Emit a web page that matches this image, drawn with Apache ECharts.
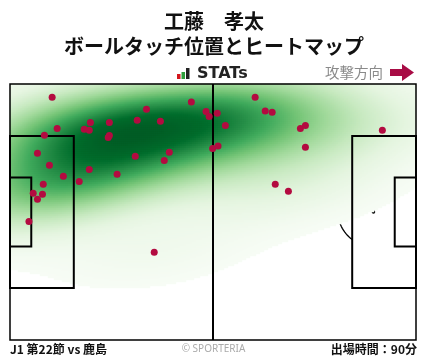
<!DOCTYPE html>
<html><head><meta charset="utf-8">
<script src="https://cdn.jsdelivr.net/npm/echarts@6/dist/echarts.min.js"></script>
<style>html,body{margin:0;padding:0;background:#fff}#c{width:428px;height:359px}</style>
</head><body><div id="c"></div>
<script>
// ---- texts ----
const playerName = '工藤　孝太';
const chartTitle = 'ボールタッチ位置とヒートマップ';
const brandLabel = 'STATs';
const directionLabel = '攻撃方向';
const matchLabel = 'J1 第22節 vs 鹿島';
const creditLabel = '© SPORTERIA';
const minutesLabel = '出場時間：90分';

// ---- ball touches (metres; x from own goal line, y from top touchline) ----
const touchX = [10.9, 12.2, 8.9, 7.1, 20.8, 19.2, 20.5, 25.7, 25.7, 25.4, 32.9, 35.3, 32.4, 46.9, 50.7, 51.5, 38.9, 52.4, 41.2, 39.9, 10.2, 20.5, 27.7, 13.8, 17.9, 8.6, 6.0, 8.4, 7.1, 53.6, 55.7, 63.4, 66.0, 67.8, 53.8, 75.1, 76.4, 76.4, 96.3, 68.6, 72.0, 4.9, 37.3];
const touchY = [3.5, 11.8, 13.6, 18.4, 10.2, 12.0, 12.3, 10.2, 13.7, 14.2, 9.6, 6.7, 19.2, 4.8, 7.3, 8.6, 9.9, 17.1, 18.1, 20.3, 21.6, 22.7, 24.0, 24.5, 25.9, 26.6, 29.0, 29.3, 30.6, 7.8, 11.0, 3.5, 7.2, 7.5, 16.5, 11.8, 11.0, 16.8, 12.3, 26.6, 28.5, 36.5, 44.7];

// ---- pitch dimensions (metres) ----
const PITCH_L = 105, PITCH_W = 68;
const BOX_D = 16.5, BOX_W = 40.32, GOAL_D = 5.5, GOAL_W = 18.32, SPOT_D = 11, CIRCLE_R = 9.15;

// ---- KDE of the touches (Scott bandwidth x BW_ADJ, full covariance), coloured by iso-proportion ----
const NX = 203, NY = 128, THRESH = 0.02, CUT = 3, EXT_N = 200, BW_ADJ = 1.45;
function kdeCells() {
  const n = touchX.length;
  let mx = 0, my = 0;
  for (let k = 0; k < n; k++) { mx += touchX[k]; my += touchY[k]; }
  mx /= n; my /= n;
  let sxx = 0, syy = 0, sxy = 0;
  for (let k = 0; k < n; k++) {
    const dx = touchX[k] - mx, dy = touchY[k] - my;
    sxx += dx * dx; syy += dy * dy; sxy += dx * dy;
  }
  sxx /= (n - 1); syy /= (n - 1); sxy /= (n - 1);
  const f2 = Math.pow(n, -1 / 3) * BW_ADJ * BW_ADJ;
  const a = sxx * f2, b = sxy * f2, c = syy * f2;
  const det = a * c - b * b;
  const ia = c / det, ib = -b / det, ic = a / det;
  const dens = (x, y) => {
    let s = 0;
    for (let k = 0; k < n; k++) {
      const dx = x - touchX[k], dy = y - touchY[k];
      s += Math.exp(-0.5 * (ia * dx * dx + 2 * ib * dx * dy + ic * dy * dy));
    }
    return s;
  };
  const bx = Math.sqrt(a), by = Math.sqrt(c);
  const x0 = Math.min(...touchX) - CUT * bx, x1 = Math.max(...touchX) + CUT * bx;
  const y0 = Math.min(...touchY) - CUT * by, y1 = Math.max(...touchY) + CUT * by;
  const ext = new Float64Array(EXT_N * EXT_N);
  for (let j = 0; j < EXT_N; j++) for (let i = 0; i < EXT_N; i++)
    ext[j * EXT_N + i] = dens(x0 + (x1 - x0) * i / (EXT_N - 1), y0 + (y1 - y0) * j / (EXT_N - 1));
  const sorted = Array.from(ext).sort((p, q) => q - p);
  const cum = new Float64Array(sorted.length);
  let tot = 0;
  for (let k = 0; k < sorted.length; k++) { tot += sorted[k]; cum[k] = tot; }
  const isoProp = (d) => {
    let lo = 0, hi = sorted.length;
    while (lo < hi) { const mid = (lo + hi) >> 1; if (sorted[mid] >= d) lo = mid + 1; else hi = mid; }
    return 1 - (lo > 0 ? cum[lo - 1] : 0) / tot;
  };
  const out = [];
  for (let j = 0; j < NY; j++) {
    const y = (j + 0.5) * PITCH_W / NY;
    for (let i = 0; i < NX; i++) {
      const x = (i + 0.5) * PITCH_L / NX;
      const q = isoProp(dens(x, y));
      if (q < THRESH) continue;
      out.push([i, j, (q - THRESH) / (1 - THRESH)]);
    }
  }
  return out;
}

const LINE = '#000';
function polyArc(api, cx, cy, r, a0, a1, steps) {
  const pts = [];
  for (let s = 0; s <= steps; s++) {
    const t = a0 + (a1 - a0) * s / steps;
    pts.push(api.coord([cx + r * Math.cos(t), cy + r * Math.sin(t)]));
  }
  return { type: 'polyline', shape: { points: pts }, style: { fill: null, stroke: LINE, lineWidth: 1.3 } };
}
function rectEl(api, x0, y0, x1, y1, lw) {
  const p = api.coord([x0, y0]), q = api.coord([x1, y1]);
  return { type: 'rect', shape: { x: Math.min(p[0], q[0]), y: Math.min(p[1], q[1]), width: Math.abs(q[0] - p[0]), height: Math.abs(q[1] - p[1]) },
    style: { fill: null, stroke: LINE, lineWidth: lw } };
}
function spot(api, x, y) {
  const p = api.coord([x, y]);
  return { type: 'circle', shape: { cx: p[0], cy: p[1], r: 1.8 }, style: { fill: LINE } };
}
function underMarkings(params, api) {
  const cy = PITCH_W / 2;
  const th = Math.acos((BOX_D - SPOT_D) / CIRCLE_R);
  return { type: 'group', children: [
    polyArc(api, PITCH_L / 2, cy, CIRCLE_R, 0, Math.PI * 2, 72),
    polyArc(api, SPOT_D, cy, CIRCLE_R, -th, th, 30),
    polyArc(api, PITCH_L - SPOT_D, cy, CIRCLE_R, Math.PI - th, Math.PI + th, 30),
    spot(api, SPOT_D, cy), spot(api, PITCH_L - SPOT_D, cy), spot(api, PITCH_L / 2, cy)
  ] };
}
function overMarkings(params, api) {
  const cy = PITCH_W / 2;
  const m1 = api.coord([PITCH_L / 2, 0]), m2 = api.coord([PITCH_L / 2, PITCH_W]);
  return { type: 'group', children: [
    rectEl(api, 0, 0, PITCH_L, PITCH_W, 1.5),
    { type: 'line', shape: { x1: m1[0], y1: m1[1], x2: m2[0], y2: m2[1] }, style: { stroke: LINE, lineWidth: 2 } },
    rectEl(api, 0, cy - BOX_W / 2, BOX_D, cy + BOX_W / 2, 2),
    rectEl(api, 0, cy - GOAL_W / 2, GOAL_D, cy + GOAL_W / 2, 2),
    rectEl(api, PITCH_L - BOX_D, cy - BOX_W / 2, PITCH_L, cy + BOX_W / 2, 2),
    rectEl(api, PITCH_L - GOAL_D, cy - GOAL_W / 2, PITCH_L, cy + GOAL_W / 2, 2)
  ] };
}

const chart = echarts.init(document.getElementById('c'), null, { renderer: 'canvas' });
const gridBox = { left: 10, top: 84, width: 406, height: 256, outerBoundsMode: 'none', containLabel: false };
const txt = (x, y, text, font, fill, align) => ({
  type: 'text', x, y, silent: true,
  style: { text, font, fill, align, textAlign: align, verticalAlign: 'middle', textVerticalAlign: 'middle' }
});
const CJK = '"Noto Sans CJK JP", "Noto Sans", sans-serif';

chart.setOption({
  animation: false,
  backgroundColor: '#fff',
  grid: [Object.assign({}, gridBox), Object.assign({}, gridBox)],
  xAxis: [
    { type: 'category', gridIndex: 0, data: Array.from({ length: NX }, (_, i) => i), show: false, boundaryGap: true },
    { type: 'value', gridIndex: 1, min: 0, max: PITCH_L, show: false }
  ],
  yAxis: [
    { type: 'category', gridIndex: 0, data: Array.from({ length: NY }, (_, i) => i), show: false, inverse: true, boundaryGap: true },
    { type: 'value', gridIndex: 1, min: 0, max: PITCH_W, show: false, inverse: true }
  ],
  visualMap: {
    show: false, type: 'continuous', min: 0, max: 1, seriesIndex: 1,
    inRange: { color: ['#f7fcf5', '#e5f5e0', '#c7e9c0', '#a1d99b', '#74c476', '#41ab5d', '#238b45', '#006d2c', '#005c25'] }
  },
  series: [
    { type: 'custom', xAxisIndex: 1, yAxisIndex: 1, data: [[0, 0]], z: 1, silent: true, renderItem: underMarkings },
    { type: 'heatmap', xAxisIndex: 0, yAxisIndex: 0, data: kdeCells(), z: 2, silent: true, progressive: 0, emphasis: { disabled: true } },
    { type: 'custom', xAxisIndex: 1, yAxisIndex: 1, data: [[0, 0]], z: 3, silent: true, renderItem: overMarkings },
    { type: 'scatter', xAxisIndex: 1, yAxisIndex: 1, z: 4, silent: true, symbolSize: 7,
      itemStyle: { color: '#b30b40', opacity: 1 },
      data: touchX.map((x, k) => [x, touchY[k]]) }
  ],
  graphic: [
    txt(214, 21, playerName, 'bold 20px ' + CJK, '#111', 'center'),
    txt(214, 46, chartTitle, 'bold 20px ' + CJK, '#111', 'center'),
    { type: 'rect', silent: true, shape: { x: 177, y: 74, width: 3.5, height: 5 }, style: { fill: '#d4161d' } },
    { type: 'rect', silent: true, shape: { x: 181.5, y: 72, width: 3.5, height: 7 }, style: { fill: '#2f9e3c' } },
    { type: 'rect', silent: true, shape: { x: 186, y: 68, width: 3.5, height: 11 }, style: { fill: '#222' } },
    txt(197, 74, brandLabel, 'bold 16px "DejaVu Sans", sans-serif', '#222', 'left'),
    txt(325, 72.5, directionLabel, '14.5px ' + CJK, '#8a8a8a', 'left'),
    { type: 'polygon', silent: true, shape: { points: [[390, 69], [402, 69], [402, 64], [414, 72.5], [402, 81], [402, 76], [390, 76]] }, style: { fill: '#a80c45' } },
    txt(10, 349, matchLabel, 'bold 12px ' + CJK, '#111', 'left'),
    txt(213.5, 349, creditLabel, '10px "Noto Sans", sans-serif', '#aaa', 'center'),
    txt(417, 349, minutesLabel, 'bold 12px ' + CJK, '#111', 'right')
  ]
});
</script></body></html>
